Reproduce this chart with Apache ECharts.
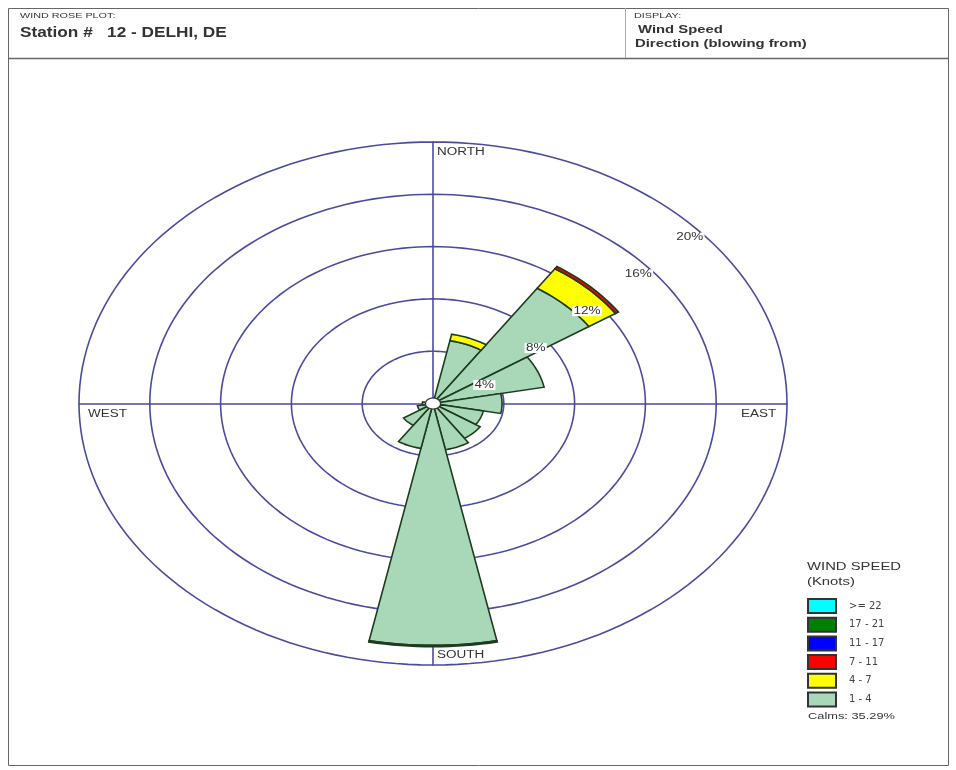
<!DOCTYPE html>
<html>
<head>
<meta charset="utf-8">
<script src="https://cdn.jsdelivr.net/npm/echarts@6/dist/echarts.min.js"></script>
<style>
  html, body { margin: 0; padding: 0; background: #fff; }
  #main { width: 956px; height: 770px; }
</style>
</head>
<body>
<div id="main"></div>
<script>
// 16 compass sectors, N first, clockwise (direction blowing from)
const directions = ['N','NNE','NE','ENE','E','ESE','SE','SSE','S','SSW','SW','WSW','W','WNW','NW','NNW'];
// percent of observations per speed bin
const speed1to4   = [0, 4.9, 10.6, 6.4, 3.9, 2.9, 3.2, 3.6, 18.5, 3.5, 2.0, 0.9, 0.6, 0, 0, 0];
const speed4to7   = [0, 0.5, 1.8, 0, 0, 0, 0, 0, 0.1, 0, 0, 0, 0, 0, 0, 0];
const speed7to11  = [0, 0, 0.2, 0, 0, 0, 0, 0, 0, 0, 0, 0, 0, 0, 0, 0];
const speed11to17 = [0, 0, 0, 0, 0, 0, 0, 0, 0, 0, 0, 0, 0, 0, 0, 0];
const speed17to21 = [0, 0, 0, 0, 0, 0, 0, 0, 0, 0, 0, 0, 0, 0, 0, 0];
const speed22up   = [0, 0, 0, 0, 0, 0, 0, 0, 0, 0, 0, 0, 0, 0, 0, 0];
const binNames  = ['1 - 4', '4 - 7', '7 - 11', '11 - 17', '17 - 21', '>= 22'];
const binColors = ['#a9d8b8', '#ffff00', '#ff0000', '#0000ff', '#008000', '#00ffff'];
const ringValues = [4, 8, 12, 16, 20];
const ringLabels = ['4%', '8%', '12%', '16%', '20%'];
const calmPercent = 35.29;
const calmRadius = 0.42;

const bins = [speed1to4, speed4to7, speed7to11, speed11to17, speed17to21, speed22up];
const rMax = 20;
const ringColor = '#4b4b9e';
const textFont = '"Liberation Sans", Arial, sans-serif';
const stretch = 1.35; // the source picture is stretched sideways, text too

// cumulative base for stacking the bins outward
const bases = [];
let running = directions.map(() => 0);
bins.forEach(b => {
  bases.push(running.slice());
  running = running.map((v, i) => v + b[i]);
});

function toXY(r, deg) {
  const a = deg * Math.PI / 180;
  return [r * Math.sin(a), r * Math.cos(a)];
}

function petalItem(binIdx) {
  return function (params, api) {
    const i = params.dataIndex;
    const val = bins[binIdx][i];
    if (!val) return null;
    const inner = bases[binIdx][i];
    const outer = inner + val;
    const a0 = i * 22.5 - 11.25, a1 = i * 22.5 + 11.25;
    const n = 16;
    const pts = [];
    for (let k = 0; k <= n; k++) pts.push(api.coord(toXY(outer, a0 + (a1 - a0) * k / n)));
    if (inner <= 0) {
      pts.push(api.coord([0, 0]));
    } else {
      for (let k = n; k >= 0; k--) pts.push(api.coord(toXY(inner, a0 + (a1 - a0) * k / n)));
    }
    return {
      type: 'polygon',
      shape: { points: pts },
      style: { fill: binColors[binIdx], stroke: '#1d3b1d', lineWidth: 1.6 }
    };
  };
}

function ellipsePoints(api, r) {
  const pts = [];
  for (let k = 0; k < 180; k++) pts.push(api.coord(toXY(r, k * 2)));
  return pts;
}

const series = [];

series.push({
  type: 'custom',
  name: 'rings',
  coordinateSystem: 'cartesian2d',
  silent: true,
  z: 1,
  data: ringValues,
  renderItem: function (params, api) {
    const r = ringValues[params.dataIndex];
    return {
      type: 'polygon',
      shape: { points: ellipsePoints(api, r) },
      style: { fill: 'none', stroke: ringColor, lineWidth: 1.6 }
    };
  }
});

bins.forEach((b, idx) => {
  series.push({
    type: 'custom',
    name: binNames[idx],
    coordinateSystem: 'cartesian2d',
    silent: true,
    z: 3,
    itemStyle: { color: binColors[idx], borderColor: '#333', borderWidth: 1 },
    data: directions.map((d, i) => [i, b[i]]),
    renderItem: petalItem(idx)
  });
});

series.push({
  type: 'custom',
  name: 'calm',
  coordinateSystem: 'cartesian2d',
  silent: true,
  z: 5,
  data: [calmRadius],
  renderItem: function (params, api) {
    return {
      type: 'polygon',
      shape: { points: ellipsePoints(api, calmRadius) },
      style: { fill: '#fff', stroke: '#333', lineWidth: 1.2 }
    };
  }
});

// ring labels sit on a line running up to the north-east
series.push({
  type: 'custom',
  name: 'ringLabels',
  coordinateSystem: 'cartesian2d',
  silent: true,
  z: 6,
  data: ringValues,
  renderItem: function (params, api) {
    const r = ringValues[params.dataIndex];
    const p = api.coord([0.725 * r, 0.705 * r - 1.4]);
    return {
      type: 'text',
      x: p[0],
      y: p[1],
      scaleX: stretch,
      style: {
        text: ringLabels[params.dataIndex],
        align: 'center',
        verticalAlign: 'middle',
        font: '10px ' + textFont,
        fill: '#333',
        backgroundColor: '#fff',
        padding: [0, 1]
      }
    };
  }
});

const axisCommon = {
  type: 'value',
  min: -rMax,
  max: rMax,
  axisLine: { show: true, onZero: true, lineStyle: { color: ringColor, width: 1.6 } },
  axisTick: { show: false },
  axisLabel: { show: false },
  splitLine: { show: false }
};

function label(txt, x, y, font, sx) {
  return { type: 'text', x: x, y: y, scaleX: sx || stretch, style: { text: txt, font: font, fill: '#333', verticalAlign: 'middle' } };
}

const chart = echarts.init(document.getElementById('main'));
chart.setOption({
  backgroundColor: '#fff',
  animation: false,
  grid: { left: 79, top: 142, width: 708, height: 523 },
  xAxis: Object.assign({}, axisCommon),
  yAxis: Object.assign({}, axisCommon),
  legend: {
    data: binNames.slice().reverse(),
    orient: 'vertical',
    left: 807,
    top: 598,
    padding: 0,
    icon: 'rect',
    itemWidth: 28,
    itemHeight: 14,
    itemGap: 2.7,
    selectedMode: false,
    textStyle: { fontSize: 10, color: '#444', fontFamily: '"DejaVu Sans", sans-serif', padding: [0, 0, 0, 8], lineHeight: 14 }
  },
  graphic: [
    { type: 'rect', shape: { x: 8.5, y: 8.5, width: 940, height: 757 }, style: { fill: 'none', stroke: '#666', lineWidth: 1 } },
    { type: 'line', shape: { x1: 8, y1: 58.5, x2: 949, y2: 58.5 }, style: { stroke: '#666', lineWidth: 1.5 } },
    { type: 'line', shape: { x1: 625.5, y1: 8, x2: 625.5, y2: 58 }, style: { stroke: '#aaa', lineWidth: 1 } },
    label('WIND ROSE PLOT:', 20, 16, '8px ' + textFont),
    label('Station #   12 - DELHI, DE', 20, 33, 'bold 14px ' + textFont, 1.23),
    label('DISPLAY:', 634, 16, '8px ' + textFont),
    label('Wind Speed', 638, 30, 'bold 11px ' + textFont),
    label('Direction (blowing from)', 635, 44, 'bold 11px ' + textFont),
    label('NORTH', 437, 152, '10px ' + textFont),
    label('SOUTH', 437, 655, '10px ' + textFont),
    label('WEST', 88, 414, '10px ' + textFont),
    label('EAST', 741, 414, '10px ' + textFont),
    label('WIND SPEED', 807, 567, '11px ' + textFont),
    label('(Knots)', 807, 582, '11px ' + textFont),
    label('Calms: ' + calmPercent.toFixed(2) + '%', 808, 716, '9.5px ' + textFont)
  ],
  series: series
});
</script>
</body>
</html>
